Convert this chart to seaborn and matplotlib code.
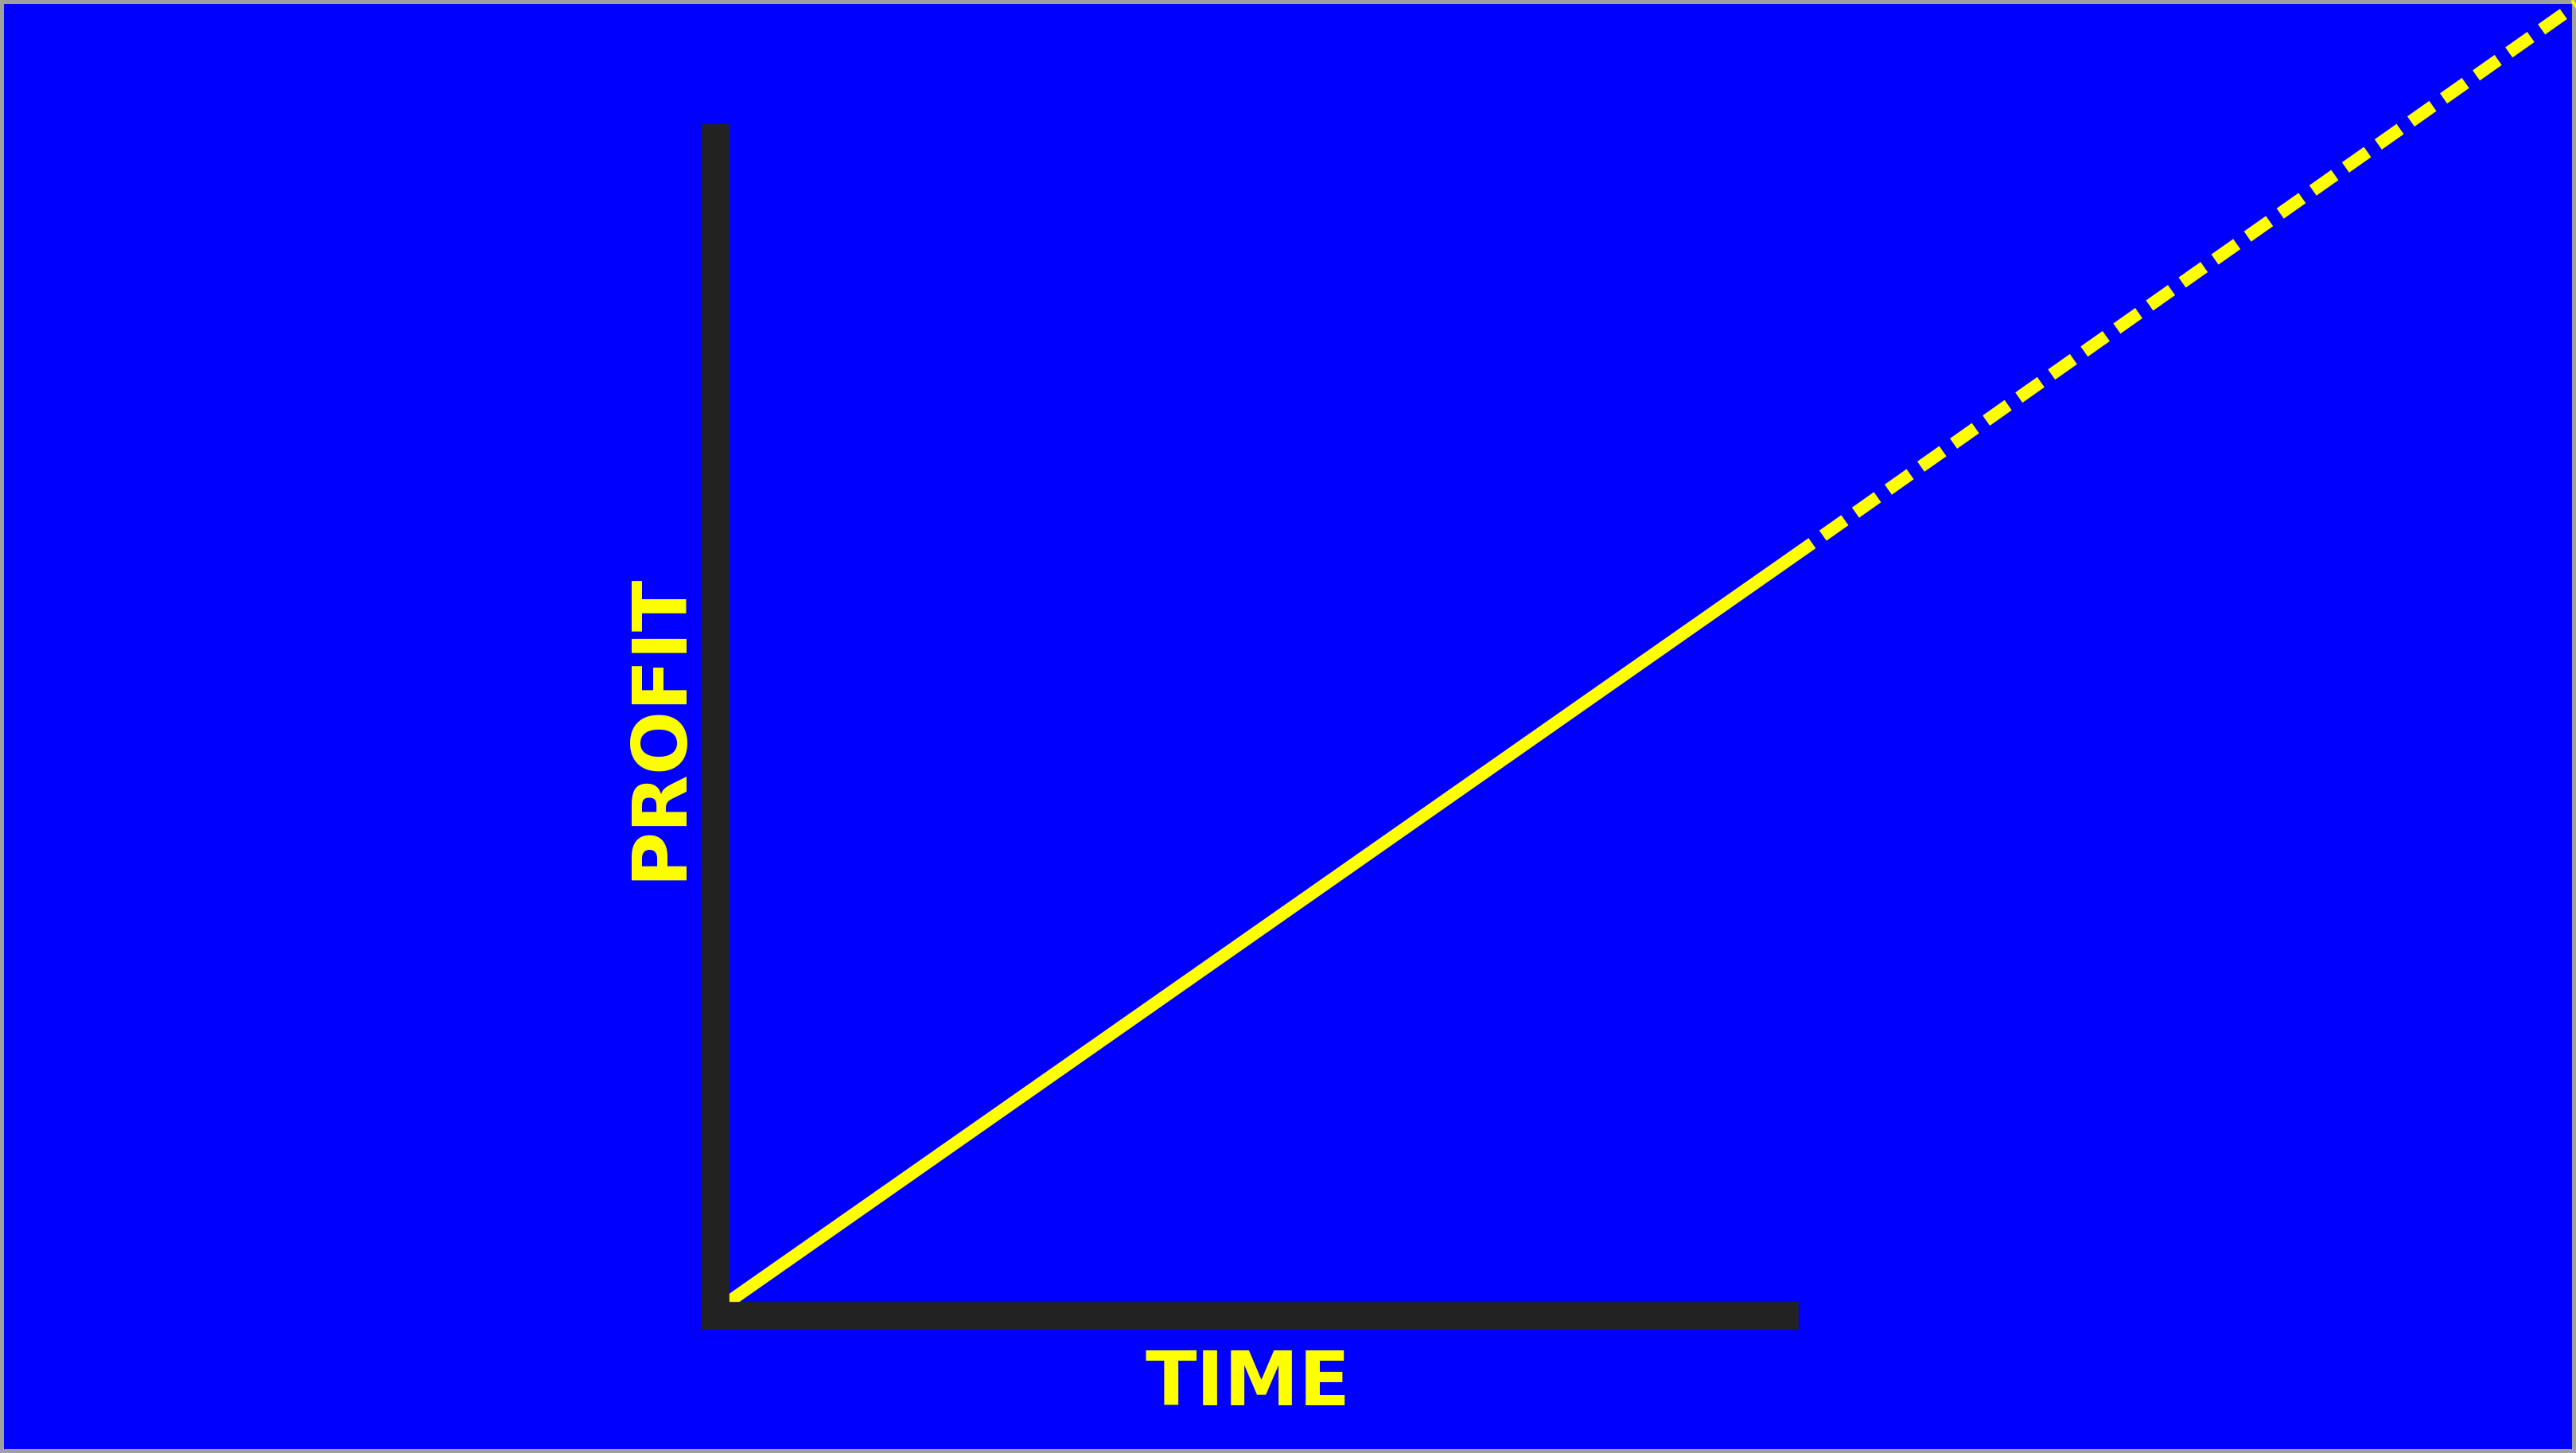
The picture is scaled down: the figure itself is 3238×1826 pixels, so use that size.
import matplotlib
matplotlib.use("Agg")
import matplotlib.pyplot as plt
import seaborn as sns

# chart values
time_actual = [0, 10]
profit_actual = [0, 7]
time_projected = [10, 17.1]
profit_projected = [7, 12]

x_label = "TIME"
y_label = "PROFIT"

BLUE = "#0000ff"
YELLOW = "#ffff00"
DARK = "#222222"

W, H = 3238, 1826
fig = plt.figure(figsize=(W / 100, H / 100), dpi=100)
fig.patch.set_facecolor(BLUE)
fig.patch.set_edgecolor("#a0a0a0")
fig.patch.set_linewidth(7.2)

# axes placed in pixels: left spine centre, bottom spine centre
ax = fig.add_axes([898.6 / W, (H - 1653.3) / H, 1344 / W, 1479.9 / H])
ax.set_facecolor("none")

sns.lineplot(x=time_actual, y=profit_actual, ax=ax, color=YELLOW, lw=11.3,
             solid_capstyle="butt", clip_on=False, errorbar=None)
sns.lineplot(x=time_projected, y=profit_projected, ax=ax, color=YELLOW, lw=11.3,
             linestyle=(2.15, (2.15, 1.05)), clip_on=False, errorbar=None)

ax.set_xlim(-0.127, 9.741)
ax.set_ylim(-0.127, 10.739)
ax.set_xticks([])
ax.set_yticks([])
ax.set_xlabel("")
ax.set_ylabel("")

for side in ["top", "right"]:
    ax.spines[side].set_visible(False)
for side in ["left", "bottom"]:
    ax.spines[side].set_color(DARK)
    ax.spines[side].set_linewidth(25)
    ax.spines[side].set_capstyle("projecting")

font = dict(family="DejaVu Sans", weight="bold", color=YELLOW, fontsize=68)
fig.text(1568.5 / W, (H - 1766) / H, x_label, ha="center", va="baseline", **font)
fig.text(855 / W, (H - 913) / H, y_label, ha="center", va="baseline",
         rotation=90, rotation_mode="anchor", **font)

fig.savefig("out.png", dpi=100, facecolor=BLUE)
